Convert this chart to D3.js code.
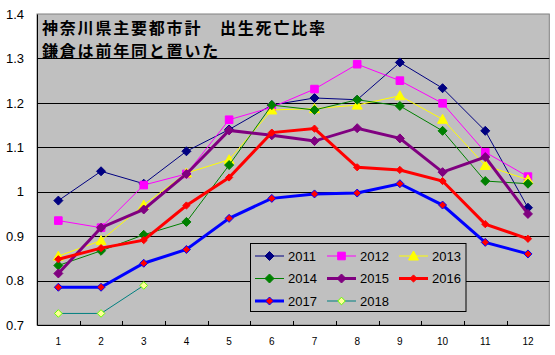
<!DOCTYPE html>
<html><head><meta charset="utf-8">
<script src="https://cdn.jsdelivr.net/npm/d3@7/dist/d3.min.js"></script>
<style>body{margin:0;background:#fff}svg{display:block}</style>
</head><body>
<svg id="c" width="555" height="355"></svg>
<script>
const months = ["1","2","3","4","5","6","7","8","9","10","11","12"];
const yTicks = [0.7,0.8,0.9,1.0,1.1,1.2,1.3,1.4];
const yTickLabels = ["0.7","0.8","0.9","1","1.1","1.2","1.3","1.4"];
const titleLines = ["神奈川県主要都市計　出生死亡比率","鎌倉は前年同と置いた"];
const seriesNames = ["2011","2012","2013","2014","2015","2016","2017","2018"];
const s2011 = [0.980,1.046,1.018,1.091,1.140,1.195,1.211,1.207,1.291,1.233,1.137,0.964];
const s2012 = [0.935,0.919,1.015,1.040,1.162,1.190,1.231,1.287,1.250,1.199,1.089,1.034];
const s2013 = [0.855,0.890,0.970,1.042,1.072,1.184,1.187,1.195,1.216,1.163,1.059,1.027];
const s2014 = [0.834,0.867,0.903,0.932,1.060,1.195,1.184,1.207,1.193,1.137,1.024,1.018];
const s2015 = [0.816,0.919,0.960,1.040,1.138,1.127,1.114,1.143,1.120,1.044,1.078,0.950];
const s2016 = [0.848,0.873,0.891,0.969,1.032,1.133,1.142,1.055,1.049,1.024,0.927,0.894];
const s2017 = [0.785,0.785,0.839,0.870,0.940,0.985,0.995,0.997,1.018,0.970,0.886,0.860];
const s2018 = [0.726,0.726,0.789];
const seriesValues = [s2011,s2012,s2013,s2014,s2015,s2016,s2017,s2018];

const styles = [
  {line:"#000080", w:1, shape:"diamond", size:4.5, fill:"#000080", stroke:"#000080"},
  {line:"#ff00ff", w:1, shape:"square", size:3.8, fill:"#ff00ff", stroke:"#ff00ff"},
  {line:"#ffff00", w:1, shape:"triangle", size:4.5, fill:"#ffff00", stroke:"#ffff00"},
  {line:"#008000", w:1, shape:"diamond", size:4.5, fill:"#008000", stroke:"#008000"},
  {line:"#800080", w:3, shape:"diamond", size:4.5, fill:"#800080", stroke:"#800080"},
  {line:"#ff0000", w:3, shape:"diamond", size:3.6, fill:"#ff0000", stroke:"#ff0000"},
  {line:"#0000ff", w:3, shape:"diamond", size:4, fill:"#ff0000", stroke:"#0000ff"},
  {line:"#008080", w:1, shape:"diamond", size:3.8, fill:"#ffff99", stroke:"#66ff00"}
];

const L = 37, R = 549.3, T = 14, B = 325;
const svg = d3.select("#c");
const x = d3.scaleBand().domain(months).range([L, R]).padding(0);
const y = d3.scaleLinear().domain([0.7, 1.4]).range([B, T]);

svg.append("rect").attr("x", L).attr("y", T).attr("width", R - L).attr("height", B - T)
  .attr("fill", "#c0c0c0").attr("stroke", "#808080").attr("stroke-width", 1);

// gridlines
svg.append("g").selectAll("line").data(yTicks.filter(v => v > 0.75 && v < 1.35)).join("line")
  .attr("x1", L).attr("x2", R).attr("y1", d => Math.round(y(d)) + 0.5).attr("y2", d => Math.round(y(d)) + 0.5)
  .attr("stroke", "#000").attr("stroke-width", 1);

// title (two lines)
svg.append("g").selectAll("text").data(titleLines).join("text")
  .attr("x", 42).attr("y", (d, i) => 33.5 + i * 23.5)
  .attr("font-family", "'Noto Sans CJK JP', sans-serif").attr("font-weight", "bold")
  .attr("font-size", 16).attr("letter-spacing", 1.8).attr("fill", "#000").text(d => d);

// axes
const yAxis = d3.axisLeft(y).tickValues(yTicks).tickFormat((d, i) => yTickLabels[i])
  .tickSizeInner(0).tickSizeOuter(0).tickPadding(13);
const gy = svg.append("g").attr("transform", `translate(${L},0)`).call(yAxis);
gy.select(".domain").attr("stroke", "#000");
gy.selectAll("text").attr("font-family", "'Liberation Sans', Arial, sans-serif").attr("font-size", 13).attr("fill", "#000");

const xAxis = d3.axisBottom(x).tickSizeInner(0).tickSizeOuter(0).tickPadding(13);
const gx = svg.append("g").attr("transform", `translate(0,${B})`).call(xAxis);
gx.select(".domain").attr("stroke", "#000");
gx.selectAll("text").attr("font-family", "'Liberation Sans', Arial, sans-serif").attr("font-size", 10).attr("fill", "#000");
// tick marks between categories, pointing inward
svg.append("g").selectAll("line").data(months.slice(1)).join("line")
  .attr("x1", d => Math.round(x(d)) + 0.5).attr("x2", d => Math.round(x(d)) + 0.5)
  .attr("y1", B).attr("y2", B - 4).attr("stroke", "#000");

function marker(sel, st) {
  const s = st.size;
  let p;
  if (st.shape === "diamond") p = `M0,${-s}L${s},0L0,${s}L${-s},0Z`;
  else if (st.shape === "square") p = `M${-s},${-s}H${s}V${s}H${-s}Z`;
  else p = `M0,${-s - 0.5}L${s + 0.5},${s - 0.5}L${-s - 0.5},${s - 0.5}Z`;
  sel.attr("d", p).attr("fill", st.fill).attr("stroke", st.stroke).attr("stroke-width", 1);
}

const line = d3.line().x((d, i) => x(months[i]) + x.bandwidth() / 2).y(d => y(d));
seriesValues.forEach((vals, k) => {
  const st = styles[k];
  const g = svg.append("g");
  g.append("path").attr("d", line(vals)).attr("fill", "none").attr("stroke", st.line).attr("stroke-width", st.w);
  g.selectAll("path.m").data(vals).join("path").attr("class", "m")
    .attr("transform", (d, i) => `translate(${x(months[i]) + x.bandwidth() / 2},${y(d)})`)
    .call(marker, st);
});

// legend
const lg = svg.append("g");
lg.append("rect").attr("x", 250.5).attr("y", 243.5).attr("width", 215.5).attr("height", 68)
  .attr("fill", "#c0c0c0").attr("stroke", "#000").attr("stroke-width", 1);
const colX = [255, 327, 399];
const rowY = [256, 278.5, 301];
seriesNames.forEach((nm, k) => {
  const st = styles[k];
  const cx = colX[k % 3], cy = rowY[Math.floor(k / 3)];
  lg.append("line").attr("x1", cx).attr("x2", cx + 29).attr("y1", cy).attr("y2", cy)
    .attr("stroke", st.line).attr("stroke-width", st.w);
  lg.append("path").attr("transform", `translate(${cx + 14.5},${cy})`).call(marker, st);
  lg.append("text").attr("x", cx + 33).attr("y", cy).attr("dominant-baseline", "central")
    .attr("font-family", "'Liberation Sans', Arial, sans-serif").attr("font-size", 13).attr("fill", "#000").text(nm);
});
</script>
</body></html>
